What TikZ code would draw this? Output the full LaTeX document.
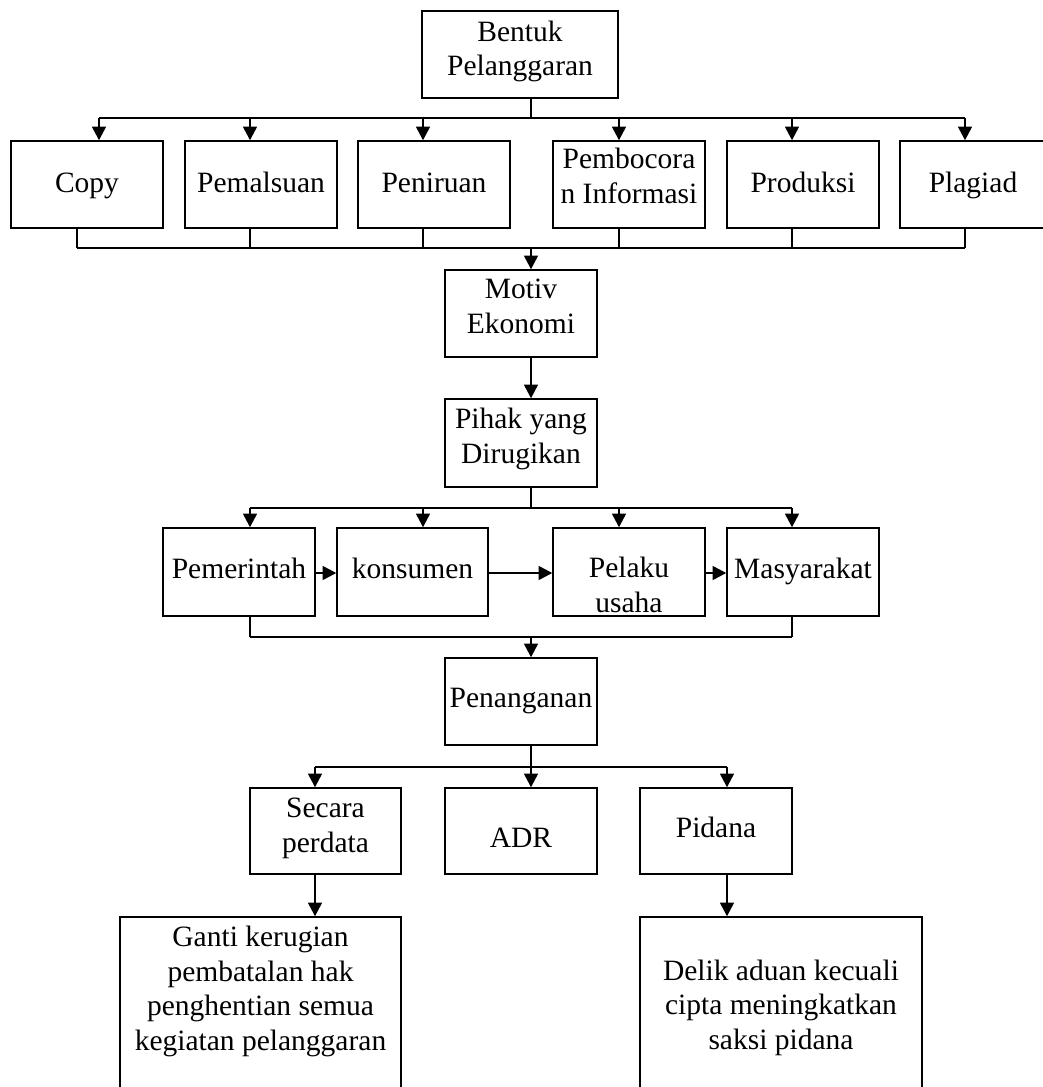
\documentclass[tikz,border=0pt]{standalone}
\usepackage{fontspec}
\setmainfont{Liberation Serif}
\usetikzlibrary{arrows.meta}
\begin{document}
\begin{tikzpicture}[x=1pt,y=-1pt,
  box/.style={draw, line width=1.6pt, inner sep=0pt},
  txt/.style={font=\fontsize{29.5}{34.5}\selectfont, align=center, inner sep=0pt, anchor=base},
  conn/.style={line width=1.1pt},
  bus/.style={line width=2pt},
  arr/.style={line width=1.1pt, -{Triangle[length=13.5pt,width=14pt]}}]
\useasboundingbox (0,0) rectangle (1043,1087);
\clip (0,0) rectangle (1043,1087);
% boxes
\node[box, minimum width=196, minimum height=87] (bentuk) at (520,54.5) {};
\node[box, minimum width=152, minimum height=87] (copy) at (87,184.5) {};
\node[box, minimum width=152, minimum height=87] (pemalsuan) at (261,184.5) {};
\node[box, minimum width=152, minimum height=87] (peniruan) at (434,184.5) {};
\node[box, minimum width=152, minimum height=87] (pembocoran) at (629,184.5) {};
\node[box, minimum width=152, minimum height=87] (produksi) at (803,184.5) {};
\node[box, minimum width=146, minimum height=87] (plagiad) at (973,184.5) {};
\node[box, minimum width=152, minimum height=87] (motiv) at (521,313.5) {};
\node[box, minimum width=152, minimum height=88] (pihak) at (521,443) {};
\node[box, minimum width=152, minimum height=88] (pemerintah) at (239,572) {};
\node[box, minimum width=151, minimum height=88] (konsumen) at (412.5,572) {};
\node[box, minimum width=152, minimum height=88] (pelaku) at (629,572) {};
\node[box, minimum width=152, minimum height=88] (masyarakat) at (803,572) {};
\node[box, minimum width=152, minimum height=87] (penanganan) at (521,701.5) {};
\node[box, minimum width=151, minimum height=86] (secara) at (325.5,831) {};
\node[box, minimum width=152, minimum height=86] (adr) at (521,831) {};
\node[box, minimum width=152, minimum height=86] (pidana) at (716,831) {};
\node[box, minimum width=281, minimum height=183] (ganti) at (260.5,1008.5) {};
\node[box, minimum width=282, minimum height=183] (delik) at (781,1008.5) {};
% texts (anchor=base is the baseline of the last line)
\node[txt] (tbentuk) at (520,75.5) {Bentuk\\Pelanggaran};
\node[txt] (tcopy) at (87,192) {Copy};
\node[txt] (tpemalsuan) at (261,192) {Pemalsuan};
\node[txt] (tperiruan) at (434,192) {Peniruan};
\node[txt] (tpembocoran) at (629,203) {Pembocora\\n Informasi};
\node[txt] (tproduksi) at (803,192) {Produksi};
\node[txt] (tplagiad) at (973,192) {Plagiad};
\node[txt] (tmotiv) at (521,333) {Motiv\\Ekonomi};
\node[txt] (tpihak) at (521,463) {Pihak yang\\Dirugikan};
\node[txt] (tpemerintah) at (239,578) {Pemerintah};
\node[txt] (tkonsumen) at (412.5,578) {konsumen};
\node[txt] (tpelaku) at (629,612) {Pelaku\\usaha};
\node[txt] (tmasyarakat) at (803,578) {Masyarakat};
\node[txt] (tpenanganan) at (521,707) {Penanganan};
\node[txt] (tsecara) at (325.5,852) {Secara\\perdata};
\node[txt] (tadr) at (521,847) {ADR};
\node[txt] (tpidana) at (716,837) {Pidana};
\node[txt] (tganti) at (260.5,1050) {Ganti kerugian\\pembatalan hak\\penghentian semua\\kegiatan pelanggaran};
\node[txt] (tdelik) at (781,1049) {Delik aduan kecuali\\cipta meningkatkan\\saksi pidana};
% connectors level 1
\draw[conn] (531,0 |- bentuk.south) -- (531,118);
\draw[bus] (99,118) -- (965,118);
\foreach \x/\n in {99/copy,250/pemalsuan,423/peniruan,619/pembocoran,792/produksi,965/plagiad}
  \draw[arr] (\x,118) -- (\x,0 |- \n.north);
\foreach \x/\n in {77/copy,250/pemalsuan,423/peniruan,619/pembocoran,792/produksi,965/plagiad}
  \draw[conn] (\x,0 |- \n.south) -- (\x,248);
\draw[bus] (77,248) -- (965,248);
\draw[arr] (531,248) -- (531,0 |- motiv.north);
\draw[arr] (531,0 |- motiv.south) -- (531,0 |- pihak.north);
% level 2
\draw[conn] (531,0 |- pihak.south) -- (531,508);
\draw[bus] (250,508) -- (792,508);
\foreach \x/\n in {250/pemerintah,423/konsumen,619/pelaku,792/masyarakat}
  \draw[arr] (\x,508) -- (\x,0 |- \n.north);
\draw[arr] (pemerintah.east |- 0,573) -- (konsumen.west |- 0,573);
\draw[arr] (konsumen.east |- 0,573) -- (pelaku.west |- 0,573);
\draw[arr] (pelaku.east |- 0,573) -- (masyarakat.west |- 0,573);
\draw[conn] (250,0 |- pemerintah.south) -- (250,637);
\draw[conn] (792,0 |- masyarakat.south) -- (792,637);
\draw[bus] (250,637) -- (792,637);
\draw[arr] (531,637) -- (531,0 |- penanganan.north);
% level 3
\draw[conn] (531,0 |- penanganan.south) -- (531,767);
\draw[bus] (315,767) -- (727,767);
\foreach \x/\n in {315/secara,531/adr,727/pidana}
  \draw[arr] (\x,767) -- (\x,0 |- \n.north);
\draw[arr] (315,0 |- secara.south) -- (315,0 |- ganti.north);
\draw[arr] (727,0 |- pidana.south) -- (727,0 |- delik.north);
\end{tikzpicture}
\end{document}
